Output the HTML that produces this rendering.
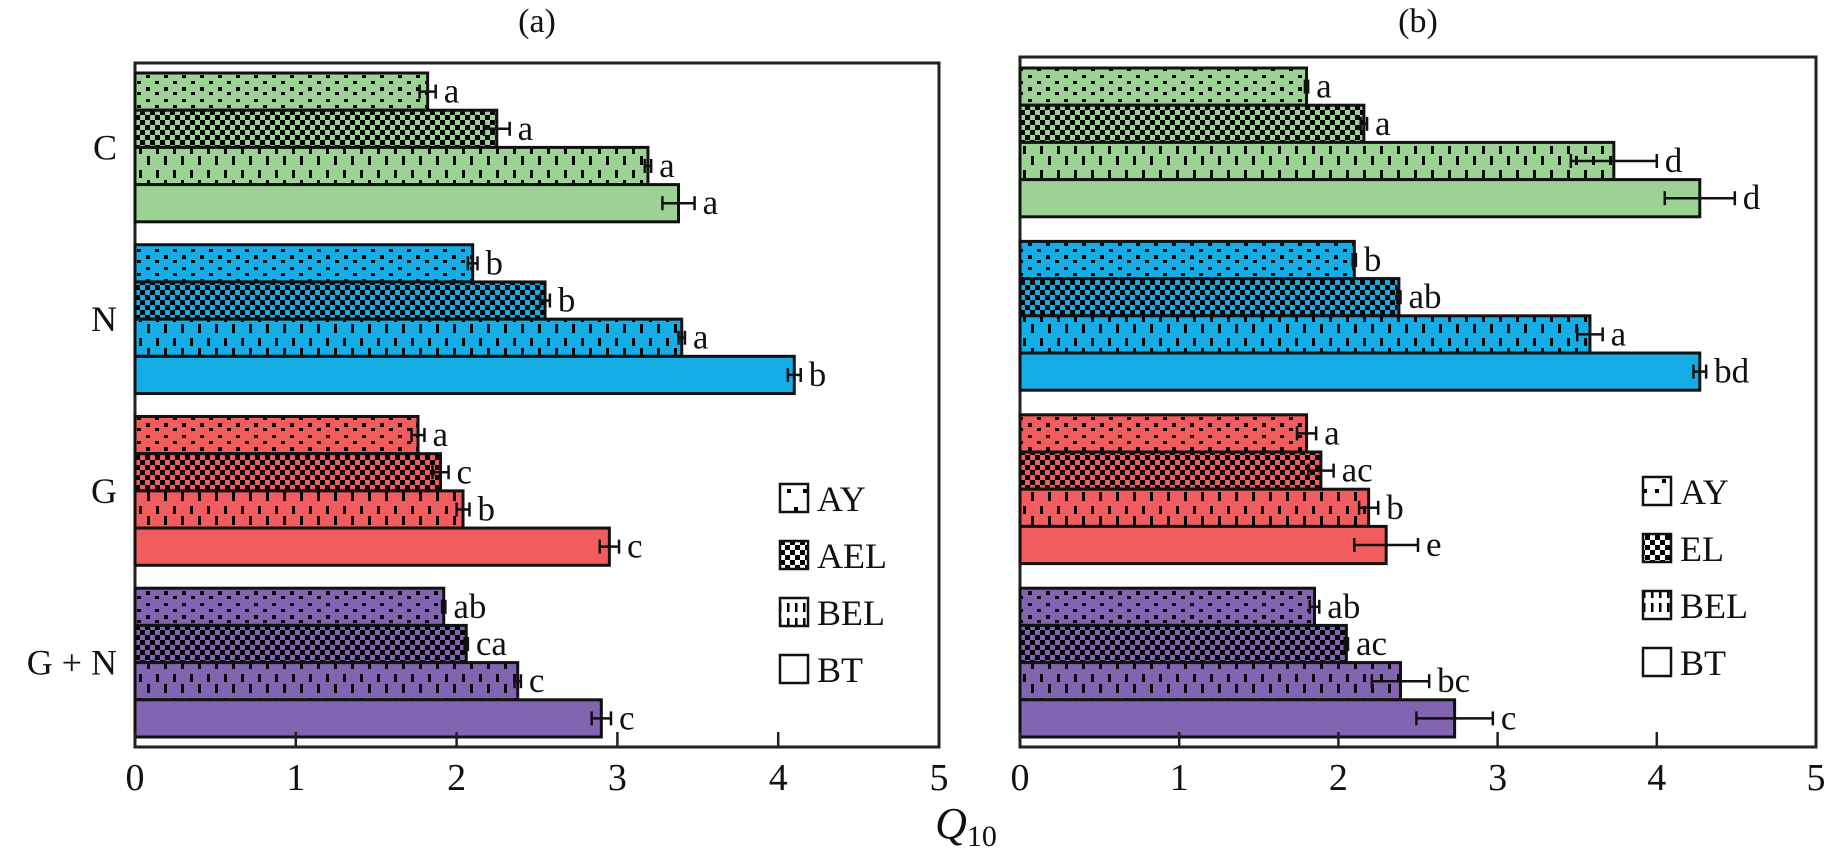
<!DOCTYPE html>
<html><head><meta charset="utf-8"><style>
html,body{margin:0;padding:0;background:#fff;}
svg{display:block;font-family:"Liberation Serif",serif;}
</style></head><body>
<svg id="chart" width="1830" height="864" viewBox="0 0 1830 864" xmlns="http://www.w3.org/2000/svg"><defs id="defs"></defs></svg>
<script>
const categories = ["C","N","G","G + N"];
const seriesNames = ["AY","AEL","BEL","BT"];
const seriesNamesB = ["AY","EL","BEL","BT"];
const xTicks = [0,1,2,3,4,5];
const valuesA = [[1.82,2.25,3.19,3.38],[2.1,2.55,3.4,4.1],[1.76,1.9,2.04,2.95],[1.92,2.06,2.38,2.9]];
const errorsA = [[0.05,0.08,0.02,0.1],[0.03,0.03,0.02,0.04],[0.04,0.05,0.04,0.06],[0.01,0.01,0.02,0.06]];
const lettersA = [["a","a","a","a"],["b","b","a","b"],["a","c","b","c"],["ab","ca","c","c"]];
const valuesB = [[1.8,2.16,3.73,4.27],[2.1,2.38,3.58,4.27],[1.8,1.89,2.19,2.3],[1.85,2.05,2.39,2.73]];
const errorsB = [[0.01,0.02,0.27,0.22],[0.01,0.01,0.08,0.04],[0.06,0.08,0.06,0.2],[0.03,0.01,0.18,0.24]];
const lettersB = [["a","a","d","d"],["b","ab","a","bd"],["a","ac","b","e"],["ab","ac","bc","c"]];
const colors = ["#9dd295","#14ade6","#f15d5f","#8264b0"];

const NS="http://www.w3.org/2000/svg";
const svg=document.getElementById('chart');
const defs=document.getElementById('defs');
function mk(tag,attrs,parent){const e=document.createElementNS(NS,tag);for(const k in attrs)e.setAttribute(k,attrs[k]);(parent||svg).appendChild(e);return e;}

function makePatterns(col,ci){
  let p=mk('pattern',{id:'dot'+ci,width:18,height:24,patternUnits:'userSpaceOnUse'},defs);
  mk('rect',{width:18,height:24,fill:col},p);
  mk('rect',{x:2,y:3,width:4,height:3,fill:'#000'},p);
  mk('rect',{x:11,y:9,width:4,height:3,fill:'#000'},p);
  mk('rect',{x:2,y:15,width:4,height:4,fill:'#000'},p);
  mk('rect',{x:11,y:20,width:4,height:3,fill:'#000'},p);
  p=mk('pattern',{id:'chk'+ci,width:10,height:10,patternUnits:'userSpaceOnUse'},defs);
  mk('rect',{width:10,height:10,fill:col},p);
  mk('rect',{x:0,y:0,width:5,height:5,fill:'#000'},p);
  mk('rect',{x:5,y:5,width:5,height:5,fill:'#000'},p);
  p=mk('pattern',{id:'vd'+ci,width:17,height:24,patternUnits:'userSpaceOnUse'},defs);
  mk('rect',{width:17,height:24,fill:col},p);
  mk('rect',{x:3,y:2,width:3,height:8,fill:'#000'},p);
  mk('rect',{x:11,y:12,width:3,height:9,fill:'#000'},p);
}
colors.forEach(makePatterns);
function fillFor(si,ci){return si===0?'url(#dot'+ci+')':si===1?'url(#chk'+ci+')':si===2?'url(#vd'+ci+')':colors[ci];}

function panel(opt){
  const g=mk('g',{});
  
  
  const sx=v=>opt.x0+(opt.x5-opt.x0)*v/5;
  const barH=37.2;
  const gap=(opt.barBottom-opt.barTop-16*barH)/3;
  const fr=mk('rect',{x:opt.x0,y:opt.top,width:opt.x5-opt.x0,height:opt.bottom-opt.top,fill:'none',stroke:'#222','stroke-width':3},g);
  
  
  opt.values.forEach((row,ci)=>{
    const gy=opt.barTop+ci*(4*barH+gap);
    row.forEach((v,si)=>{
      const y=gy+si*barH;
      const r=mk('rect',{x:sx(0),y:y,width:sx(v)-sx(0),height:barH,fill:fillFor(si,ci),stroke:'#111','stroke-width':3},g);
      
      
      const e=opt.errors[ci][si], cy=y+barH/2;
      const eg=mk('g',{stroke:'#111','stroke-width':2.5},g);
      
      
      mk('line',{x1:sx(v-e),x2:sx(v+e),y1:cy,y2:cy},eg);
      mk('line',{x1:sx(v-e),x2:sx(v-e),y1:cy-7,y2:cy+7},eg);
      mk('line',{x1:sx(v+e),x2:sx(v+e),y1:cy-7,y2:cy+7},eg);
      const t=mk('text',{x:sx(v+e)+8,y:cy+11,'font-size':35,fill:'#111'},g);
      t.textContent=opt.letters[ci][si];
      
      
    });
    if(opt.catLabels){
      const t=mk('text',{x:117,y:gy+2*barH+12,'font-size':36,'text-anchor':'end',fill:'#111'},g);
      t.textContent=categories[ci];
      
      
    }
  });
  xTicks.forEach(tv=>{
    const x=sx(tv);
    const l=mk('line',{x1:x,x2:x,y1:opt.bottom,y2:opt.bottom-15,stroke:'#222','stroke-width':2.5},g);
    
    
    const t=mk('text',{x:x,y:790,'font-size':38,'text-anchor':'middle',fill:'#111'},g);
    t.textContent=tv;
    
    
  });
  const ti=mk('text',{x:(opt.x0+opt.x5)/2,y:32,'font-size':34,'text-anchor':'middle',fill:'#111'},g);
  ti.textContent=opt.title;
  
  
  opt.legendNames.forEach((n,si)=>{
    const cy=opt.legY+si*57;
    const lg=mk('g',{},g);
    
    
    const pid=['dot','chk','vd'][si];
    mk('rect',{x:opt.legX,y:cy-14,width:28,height:28,fill:si<3?'url(#'+pid+'L)':'#fff',stroke:'#111','stroke-width':2.5},lg);
    const t=mk('text',{x:opt.legX+37,y:cy+13,'font-size':36,fill:'#111'},lg);
    t.textContent=n;
  });
}
(function(){
  let p=mk('pattern',{id:'dotL',width:28,height:28,patternUnits:'userSpaceOnUse'},defs);
  mk('rect',{width:28,height:28,fill:'#fff'},p);
  mk('rect',{x:10,y:3,width:4,height:4,fill:'#000'},p);mk('rect',{x:3,y:13,width:4,height:4,fill:'#000'},p);mk('rect',{x:19,y:13,width:4,height:4,fill:'#000'},p);
  p=mk('pattern',{id:'chkL',width:10,height:10,patternUnits:'userSpaceOnUse'},defs);
  mk('rect',{width:10,height:10,fill:'#fff'},p);mk('rect',{width:5,height:5,fill:'#000'},p);mk('rect',{x:5,y:5,width:5,height:5,fill:'#000'},p);
  p=mk('pattern',{id:'vdL',width:8,height:28,patternUnits:'userSpaceOnUse'},defs);
  mk('rect',{width:8,height:28,fill:'#fff'},p);mk('rect',{x:3,y:2,width:2.5,height:8,fill:'#000'},p);mk('rect',{x:3,y:15,width:2.5,height:9,fill:'#000'},p);
})();

panel({name:'panel-a',title:'(a)',x0:135,x5:939,top:63,bottom:747,barTop:73,barBottom:737,values:valuesA,errors:errorsA,letters:lettersA,catLabels:true,legendNames:seriesNames,legX:780,legY:498});
panel({name:'panel-b',title:'(b)',x0:1020,x5:1816,top:57,bottom:747,barTop:68,barBottom:737,values:valuesB,errors:errorsB,letters:lettersB,catLabels:false,legendNames:seriesNamesB,legX:1643,legY:491});

const xl=mk('text',{x:966,y:838,'font-size':44,'font-style':'italic','text-anchor':'middle',fill:'#111'});


xl.textContent='Q';
const sub=mk('tspan',{'font-size':30,'font-style':'normal',dy:8},xl);
sub.textContent='10';
</script>
</body></html>
